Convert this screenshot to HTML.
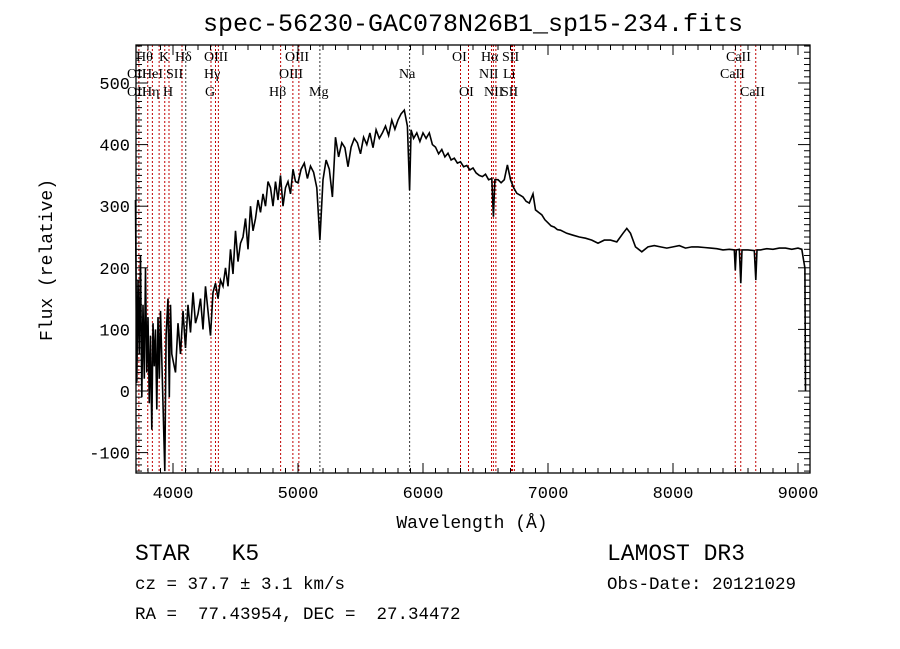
<!DOCTYPE html>
<html><head><meta charset="utf-8"><style>
body{margin:0;background:#fff;width:900px;height:649px;overflow:hidden}
svg{display:block}
text{font-family:"Liberation Mono",monospace;white-space:pre}
.ln{font-family:"Liberation Serif",serif;font-size:14px}
</style></head><body>
<svg id="chart" width="900" height="649" viewBox="0 0 900 649">
<text x="473" y="31" font-size="25" text-anchor="middle">spec-56230-GAC078N26B1_sp15-234.fits</text>
<g id="lines"></g>
<g id="labels"></g>
<g id="axes"></g>
<polyline id="spec" fill="none" stroke="#000" stroke-width="1.6"/>
<text x="472" y="528" font-size="18" text-anchor="middle">Wavelength (Å)</text>
<text transform="translate(52,260) rotate(-90)" font-size="18" text-anchor="middle">Flux (relative)</text>
<text x="135" y="560" font-size="23">STAR   K5</text>
<text x="135" y="589" font-size="17.5">cz = 37.7 ± 3.1 km/s</text>
<text x="135" y="619" font-size="17.5">RA =  77.43954, DEC =  27.34472</text>
<text x="607" y="560" font-size="23">LAMOST DR3</text>
<text x="607" y="589" font-size="17.5">Obs-Date: 20121029</text>
</svg>
<script>
const wavelengths=[3700,3710,3720,3730,3740,3750,3760,3770,3780,3790,3800,3810,3820,3830,3840,3850,3860,3870,3880,3890,3900,3934,3945,3960,3970,3980,3990,4000,
4020,4040,4060,4080,4100,4120,4140,4160,4180,4200,4220,4240,4260,4280,4300,4320,4340,4360,4380,4400,
4420,4440,4460,4480,4500,4520,4540,4560,4580,4600,4620,4640,4660,4680,4700,4720,4740,4760,4780,4800,4820,4840,4860,4880,4900,4920,4940,4960,4980,5000,
5025,5050,5075,5100,5125,5150,5175,5200,5225,5250,5275,5300,5325,5350,5375,5400,5425,5450,5475,5500,5525,5550,5575,5600,5625,5650,5675,5700,5725,5750,5775,5800,5825,5850,
5875,5893,5905,5925,5950,5975,6000,
6025,6050,6075,6100,6125,6150,6175,6200,6225,6250,6275,6300,6325,6350,6375,6400,6425,6450,6475,6500,6525,6550,
6563,6575,6600,6625,6650,6675,6700,6725,6750,6775,6800,6825,6850,6880,6900,6925,6950,6975,7000,7025,7050,7075,7100,7150,7200,7250,7300,7350,7400,7450,7500,7550,7600,7630,7660,7700,7750,7800,7850,7900,7950,8000,8050,8100,8150,8200,8250,8300,8350,8400,8450,8490,8498,8506,8530,8542,8552,8600,8650,8662,8672,8700,8750,8800,8850,8900,8950,9000,9030,9045,9055,9060];
const flux=[310,13,180,60,220,-10,140,20,200,30,120,-20,90,-63,110,40,100,-30,120,20,130,-130,90,150,-10,140,60,50,
30,110,60,130,70,140,95,160,110,125,150,100,170,130,90,160,175,150,180,170,
200,170,230,190,260,210,240,250,280,230,300,260,280,310,290,320,300,340,330,300,340,310,350,300,330,340,320,360,340,338,
360,370,345,365,355,330,245,343,375,360,315,412,380,403,395,364,396,410,403,385,412,400,419,395,424,410,419,430,415,440,425,440,450,456,
430,326,424,410,419,405,419,
410,419,400,396,385,392,380,386,375,378,370,372,364,366,359,362,354,350,348,352,343,345,
283,343,343,338,343,367,343,330,321,318,315,308,305,320,294,290,286,278,273,268,266,262,261,256,253,250,248,245,240,245,245,242,256,264,256,234,226,234,236,234,232,234,236,232,234,234,233,232,231,229,230,229,196,229,230,175,229,229,228,180,229,229,231,230,232,232,230,232,230,212,200,0];
const lineWl=[3727,3798,3835,3889,3934,3968,4072,4102,4304,4340,4363,4861,4959,5007,5175,5893,6300,6364,6548,6563,6583,6708,6716,6731,8498,8542,8662];
const xTickLabels=[4000,5000,6000,7000,8000,9000];
const yTickLabels=[-100,0,100,200,300,400,500];
const X0=136,X1=810,Y0=45,Y1=473;
const sx=w=>173+(w-4000)*0.125;
const sy=f=>391-f*0.616;
const NS="http://www.w3.org/2000/svg";
function mk(tag,attrs,parent){const e=document.createElementNS(NS,tag);for(const k in attrs)e.setAttribute(k,attrs[k]);parent.appendChild(e);return e;}
const ax=document.getElementById('axes');
let fr=mk('rect',{x:X0,y:Y0,width:X1-X0,height:Y1-Y0,fill:'none',stroke:'#000','stroke-width':1.3},ax);


for(let w=3700;w<=9100;w+=100){const x=sx(w);if(x<X0||x>X1)continue;const L=(w%1000===0)?10:5;
mk('line',{x1:x,x2:x,y1:Y1,y2:Y1-L,stroke:'#000'},ax);mk('line',{x1:x,x2:x,y1:Y0,y2:Y0+L,stroke:'#000'},ax);}
for(let f=-130;f<=560;f+=10){const y=sy(f);if(y<Y0||y>Y1)continue;const L=(f%100===0)?12:6;
mk('line',{x1:X0,x2:X0+L,y1:y,y2:y,stroke:'#000'},ax);mk('line',{x1:X1,x2:X1-L,y1:y,y2:y,stroke:'#000'},ax);}
xTickLabels.forEach(v=>{const t=mk('text',{x:sx(v),y:Y1+25,'font-size':17,'text-anchor':'middle'},ax);t.textContent=v;

});
yTickLabels.forEach(v=>{const t=mk('text',{x:X0-6,y:sy(v)+6,'font-size':17,'text-anchor':'end'},ax);t.textContent=v;

});
const lg=document.getElementById('lines');
lineWl.forEach(w=>{const x=sx(w);const black=(w===4102||w===5175||w===5893);
const l=mk('line',{x1:x,x2:x,y1:Y0,y2:Y1,stroke:black?'#333':'#c00000','stroke-width':1,'stroke-dasharray':'2,2'},lg);

});
const labs=[["Hθ",136,61],["K",159,61],["Hδ",175,61],["OIII",204,61],["OIII",285,61],["OI",452,61],["Hα",481,61],["SII",502,61],["CaII",726,61],
["OII",127,78],["HeI",142,78],["SII",166,78],["Hγ",204,78],["OIII",279,78],["Na",399,78],["NII",479,78],["Li",503,78],["CaII",720,78],
["OII",127,96],["Hη",142,96],["H",163,96],["G",205,96],["Hβ",269,96],["Mg",309,96],["OI",459,96],["NII",484,96],["SII",501,96],["CaII",740,96]];
const lb=document.getElementById('labels');
labs.forEach(a=>{const t=mk('text',{x:a[1],y:a[2],class:'ln'},lb);t.textContent=a[0];

});
document.getElementById('spec').setAttribute('points',wavelengths.map((w,i)=>sx(w).toFixed(1)+','+sy(flux[i]).toFixed(1)).join(' '));
</script>
</body></html>
